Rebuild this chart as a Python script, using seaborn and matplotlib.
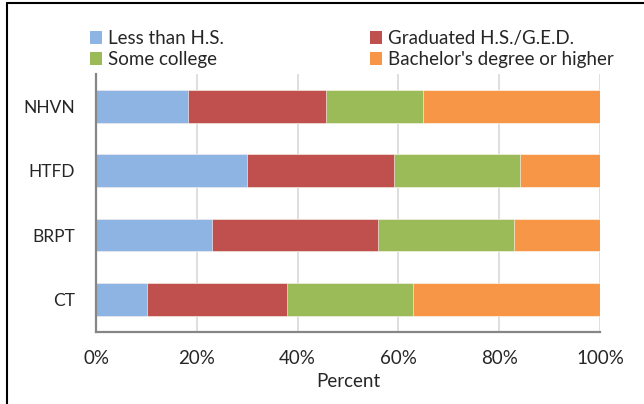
import numpy as np
import pandas as pd
import seaborn as sns
import matplotlib.pyplot as plt
from matplotlib.patches import Patch
from matplotlib.lines import Line2D
from matplotlib.ticker import MultipleLocator, FixedLocator, PercentFormatter

regions = ['NHVN', 'HTFD', 'BRPT', 'CT']
series = ['Less than H.S.', 'Graduated H.S./G.E.D.', 'Some college', "Bachelor's degree or higher"]
less_hs = [18.2, 29.9, 23.1, 10.2]
grad_hs = [27.4, 29.2, 32.8, 27.7]
some_college = [19.3, 25.0, 27.0, 24.9]
bachelor = [35.1, 15.9, 17.1, 37.2]
colors = ['#8EB4E3', '#C0504D', '#9BBB59', '#F79646']

df = pd.DataFrame({'Region': regions, series[0]: less_hs, series[1]: grad_hs,
                   series[2]: some_college, series[3]: bachelor})
cum = df[series].cumsum(axis=1)

sns.set_style('white')
plt.rcParams['font.family'] = ['Lato', 'DejaVu Sans']

fig = plt.figure(figsize=(6.44, 4.04), dpi=100)
ax = fig.add_axes([96/644, 1-331.7/404, 504/644, 257.7/404])

# stacked bars: draw cumulative totals back to front
for s, c in zip(series[::-1], colors[::-1]):
    sns.barplot(data=cum.assign(Region=regions), x=s, y='Region', order=regions,
                color=c, width=0.51, orient='h', ax=ax, edgecolor='white', linewidth=0.4,
                saturation=1)

ax.set_xlim(0, 100)
ax.set_ylim(3.5, -0.5)
ax.xaxis.set_major_locator(MultipleLocator(20))
ax.xaxis.set_minor_locator(MultipleLocator(4))
ax.xaxis.set_major_formatter(PercentFormatter(decimals=0))
ax.yaxis.set_minor_locator(FixedLocator([-0.5, 0.5, 1.5, 2.5, 3.5]))
ax.grid(axis='x', which='major', color='#D9D9D9', linewidth=1.2)
ax.set_axisbelow(True)

axis_c = '#868686'
for side in ['top', 'right']:
    ax.spines[side].set_visible(False)
for side in ['left', 'bottom']:
    ax.spines[side].set_color(axis_c)
    ax.spines[side].set_linewidth(1.6)

ax.tick_params(axis='x', which='major', direction='inout', length=9, width=1.6,
               color=axis_c, labelsize=13.5, pad=9)
ax.tick_params(axis='x', which='minor', direction='in', length=4, width=1.4, color=axis_c)
ax.tick_params(axis='y', which='major', length=0, labelsize=12.5, pad=15)
ax.tick_params(axis='y', which='minor', direction='out', length=4.5, width=1.6, color=axis_c)
ax.set_xlabel('Percent', fontsize=13.5, labelpad=4)
ax.set_ylabel('')

handles = [Patch(facecolor=c, edgecolor='none') for c in colors]
order = [0, 2, 1, 3]
fig.legend([handles[i] for i in order], [series[i] for i in order], ncol=2,
           loc='upper left', bbox_to_anchor=(90/644, 1-30/404), frameon=False,
           fontsize=13.5, handlelength=0.65, handleheight=0.65, handletextpad=0.3,
           columnspacing=7.8, labelspacing=0.22, borderaxespad=0, borderpad=0)

fig.add_artist(Line2D([7/644, 7/644], [0, 1-3/404], color='black', linewidth=1.5))
fig.add_artist(Line2D([7/644, 1], [1-3/404, 1-3/404], color='black', linewidth=1.5))

fig.savefig('out.png', dpi=100)
